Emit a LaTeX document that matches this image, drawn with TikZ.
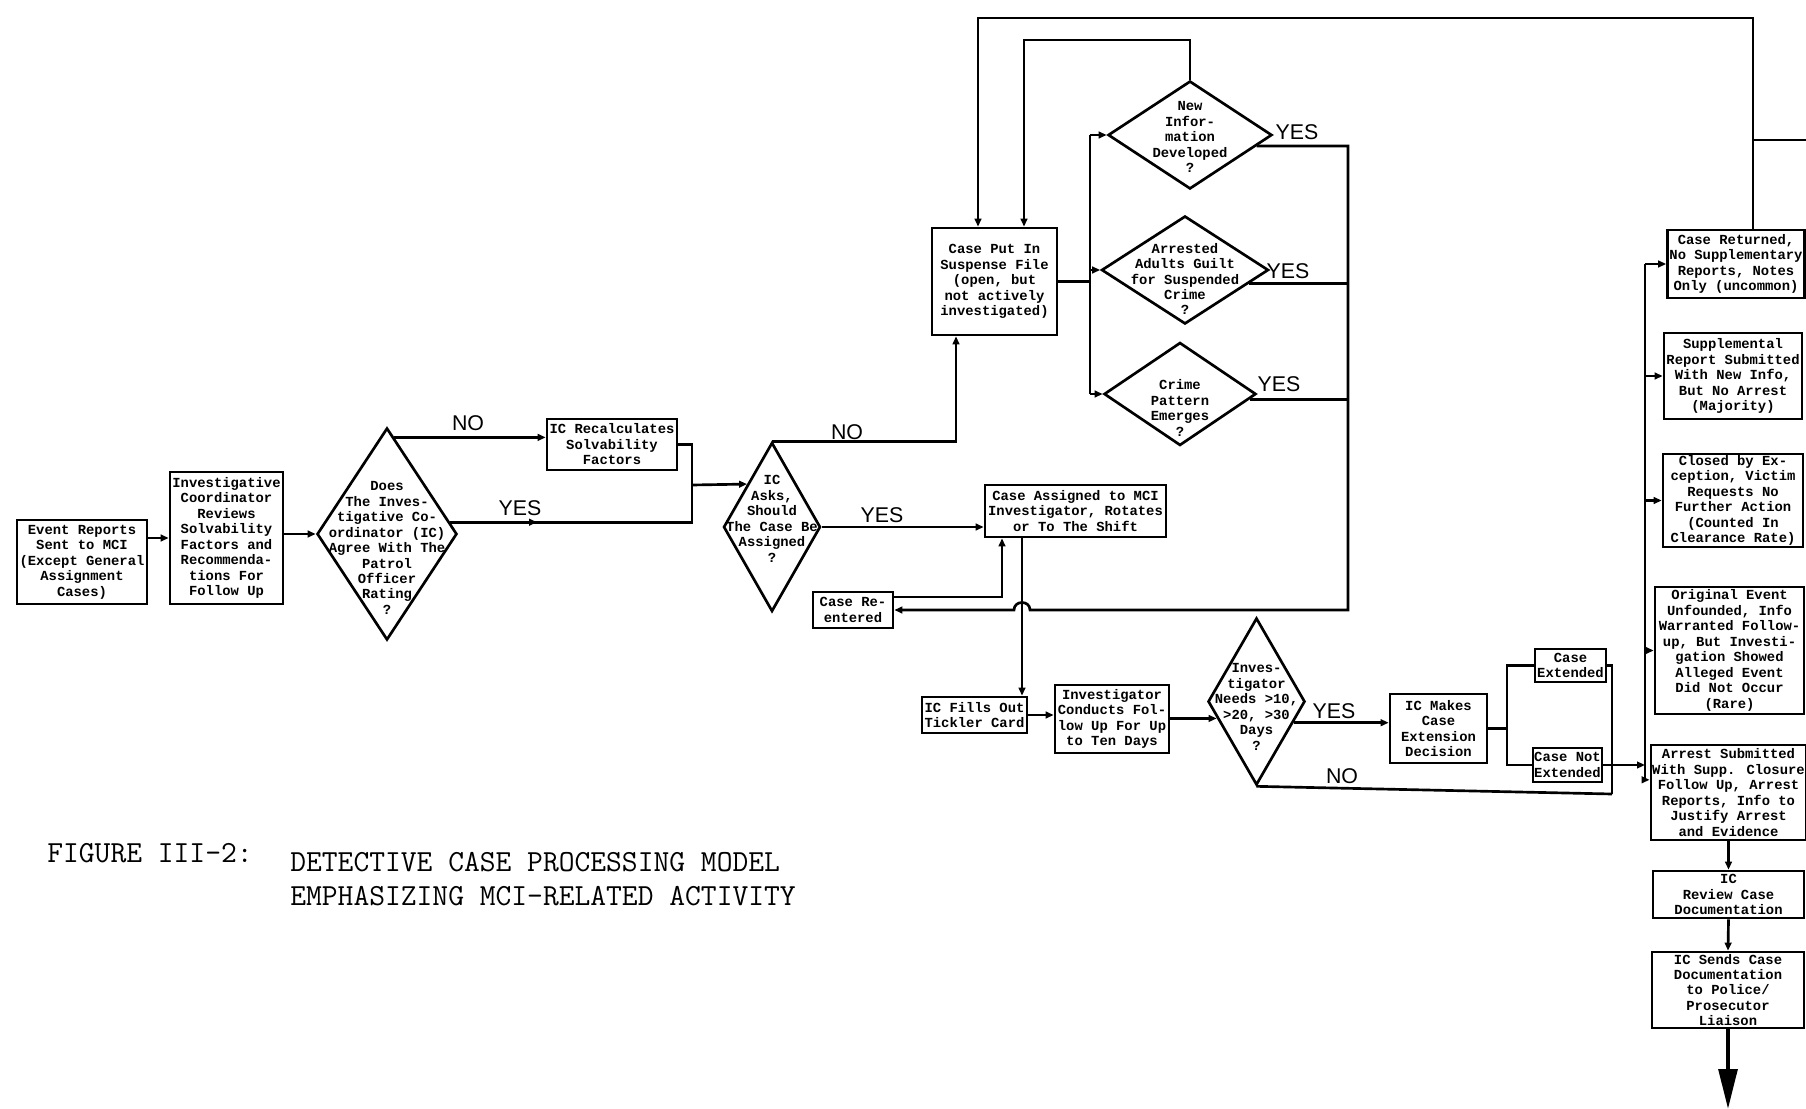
\documentclass[tikz,border=0pt]{standalone}
\usepackage{fontspec}
\newfontfamily\boxfont{Liberation Mono}
\newfontfamily\lblfont{Liberation Sans}
\usetikzlibrary{arrows.meta,shapes.geometric,calc,decorations.markings}
\begin{document}
\begin{tikzpicture}[x=0.75pt,y=-0.75pt,line width=2pt,
  box/.style={draw, rectangle, inner sep=1pt, align=center, font={\boxfont\bfseries\fontsize{10.4}{11.6}\selectfont}},
  dia/.style={draw, diamond, inner sep=0pt},
  dtxt/.style={align=center, inner sep=0pt, font={\boxfont\bfseries\fontsize{10.4}{11.6}\selectfont}},
  lbl/.style={inner sep=0pt, font={\lblfont\fontsize{16}{18}\selectfont}},
  captxt/.style={inner sep=0pt, anchor=west, font={\ttfamily\fontsize{23}{27}\selectfont}},
  sz/.style 2 args={minimum width=#1*0.75pt, minimum height=#2*0.75pt},
  arw/.style={-{Triangle[length=6pt,width=5pt]}},
  midarw/.style={postaction={decorate}, decoration={markings, mark=at position #1 with {\arrow{Triangle[length=6pt,width=5pt]}}}}
]
\fill[white] (0,0) rectangle (1806,1109);
\useasboundingbox (0,0) rectangle (1806,1109);

% ---------- left part ----------
\node[box, sz={130}{84}] (ev) at (82,562) {Event Reports\\Sent to MCI\\(Except General\\Assignment\\Cases)};
\node[box, sz={113}{132}] (icr) at (226.5,538) {Investigative\\Coordinator\\Reviews\\Solvability\\Factors and\\Recommenda-\\tions For\\Follow Up};
\node[dia, sz={140}{212}] (d1) at (387,534) {};
\node[dtxt] (d1t) at (387,548) {Does\\The Inves-\\tigative Co-\\ordinator (IC)\\Agree With The\\Patrol\\Officer\\Rating\\?};
\node[box, sz={130}{51}] (rec) at (612,444.5) {IC Recalculates\\Solvability\\Factors};
\node[dia, sz={97}{169}] (d2) at (772,527) {};
\node[dtxt] (d2t) at (772,519) {IC\\Asks,\\Should\\The Case Be\\Assigned\\?};

% ---------- suspense part ----------
\node[box, sz={125}{107}] (cp) at (994.5,281.5) {Case Put In\\Suspense File\\(open, but\\not actively\\investigated)};
\node[dia, sz={164}{108}] (dA) at (1190,135) {};
\node[dtxt] (dAt) at (1190,137) {New\\Infor-\\mation\\Developed\\?};
\node[dia, sz={167}{108}] (dB) at (1185,270) {};
\node[dtxt] (dBt) at (1185,279) {Arrested\\Adults Guilt\\for Suspended\\Crime\\?};
\node[dia, sz={152}{103}] (dC) at (1180,394) {};
\node[dtxt] (dCt) at (1180,408) {Crime\\Pattern\\Emerges\\?};

% ---------- assignment part ----------
\node[box, sz={181}{52}] (ca) at (1075.5,511) {Case Assigned to MCI\\Investigator, Rotates\\or To The Shift};
\node[box, sz={80}{36}] (cre) at (853,610) {Case Re-\\entered};
\node[box, sz={105}{36}] (tick) at (974.5,715) {IC Fills Out\\Tickler Card};
\node[box, sz={114}{68}] (cond) at (1112,719) {Investigator\\Conducts Fol-\\low Up For Up\\to Ten Days};
\node[dia, sz={97}{167}] (d3) at (1256.5,701.5) {};
\node[dtxt] (d3t) at (1256.5,707) {Inves-\\tigator\\Needs >10,\\>20, >30\\Days\\?};
\node[box, sz={97}{69}] (mk) at (1438.5,728.5) {IC Makes\\Case\\Extension\\Decision};
\node[box, sz={71}{33}] (ext) at (1570.5,665.5) {Case\\Extended};
\node[box, sz={69}{34}] (nxt) at (1567.5,765) {Case Not\\Extended};

% ---------- right column ----------
\node[box, sz={137}{68}] (ret) at (1736,264) {Case Returned,\\No Supplementary\\Reports, Notes\\Only (uncommon)};
\node[box, sz={138}{86}] (sup) at (1733,376) {Supplemental\\Report Submitted\\With New Info,\\But No Arrest\\(Majority)};
\node[box, sz={140}{89}] (clo) at (1733,500.5) {Closed by Ex-\\ception, Victim\\Requests No\\Further Action\\(Counted In\\Clearance Rate)};
\node[box, sz={149}{127}] (orig) at (1729.5,650.5) {Original Event\\Unfounded, Info\\Warranted Follow-\\up, But Investi-\\gation Showed\\Alleged Event\\Did Not Occur\\(Rare)};
\node[box, sz={151}{95}] (arst) at (1728.5,792.5) {Arrest Submitted\\With Supp. Closure\\Follow Up, Arrest\\Reports, Info to\\Justify Arrest\\and Evidence};
\node[box, sz={151}{47}] (rev) at (1728.5,894.5) {IC\\Review Case\\Documentation};
\node[box, sz={152}{76}] (snd) at (1728,990) {IC Sends Case\\Documentation\\to Police/\\Prosecutor\\Liaison};

% ---------- connectors ----------
\draw[arw] (ev.east |- icr.west) -- (icr.west);
\draw[arw] (icr.east |- d1.west) -- (d1.west);
\draw[arw] ($(d1.north)!0.1!(d1.east)$) coordinate (n1) -- (n1 -| rec.west);
\coordinate (j1) at (692,485);
\draw[midarw=0.26] ($(d1.north)!0.89!(d1.east)$) coordinate (y1) -- (y1 -| j1) -- (j1 |- rec.east) -- (rec.east);
\draw[arw] (j1) -- (d2.north west);

\coordinate (k2) at (956,448);
\draw[arw] (d2.north) -- (d2.north -| k2) -- (k2 |- cp.south);
\draw[arw] (d2.east) -- (d2.east -| ca.west);
\coordinate (k3) at (1002,597);
\draw[arw] (cre.east |- k3) -- (k3) -- (k3 |- ca.south);
\coordinate (k4) at (1022,537);
\draw[arw] (k4 |- ca.south) -- (k4 |- tick.north);

% YES loop back to Case Re-entered
\coordinate (k6) at (1348,610);
\path ($(dA.east)!0.2!(dA.south)$) coordinate (eA);
\path ($(dB.east)!0.25!(dB.south)$) coordinate (eB);
\path ($(dC.east)!0.1!(dC.south)$) coordinate (eC);
\draw[arw] (eA) -- (eA -| k6) -- (k6) -- ($(k4 |- k6)+(8,0)$) .. controls +(0,-10) and +(0,-10) .. ($(k4 |- k6)+(-8,0)$) -- (cre.east |- k6);
\draw (eB) -- (eB -| k6);
\draw (eC) -- (eC -| k6);

% suspense file to the three questions
\coordinate (k7) at (1090,284);
\draw (cp.east) -- (cp.east -| k7);
\draw (k7 |- dA.west) -- (k7 |- dC.west);
\draw[arw] (k7 |- dA.west) -- (dA.west);
\draw[arw] (k7 |- dB.west) -- (dB.west);
\draw[arw] (k7 |- dC.west) -- (dC.west);

% top loops
\coordinate (k8) at (1753,18);
\coordinate (k9) at (978,18);
\draw[arw] (k8 |- ret.north) -- (k8) -- (k9) -- (k9 |- cp.north);
\coordinate (k10) at (1806,140);
\draw (k10 -| k8) -- (k10);
\coordinate (k11) at (1024,40);
\draw[arw] (dA.north) -- (dA.north |- k11) -- (k11) -- (k11 |- cp.north);

% follow-up chain
\draw[arw] (tick.east) -- (tick.east -| cond.west);
\path ($(d3.west)!0.2!(d3.south)$) coordinate (c3);
\draw[arw] (cond.east |- c3) -- (c3);
\path ($(d3.east)!0.25!(d3.south)$) coordinate (c4);
\draw[arw] (c4) -- (c4 -| mk.west);
\coordinate (k12) at (1612,794);
\draw (d3.south) -- (k12);
\coordinate (k13) at (1507,728);
\draw (mk.east) -- (mk.east -| k13);
\draw (ext.west) -- (ext.west -| k13) -- (nxt.west -| k13) -- (nxt.west);
\draw (ext.east) -- (ext.east -| k12) -- (k12);

% bus to outcomes
\coordinate (bus) at (1645,264);
\draw[arw] (nxt.east) -- (nxt.east -| bus);
\path ($(arst.north west)!0.37!(arst.south west)$) coordinate (c5);
\draw (bus |- ret.west) -- (bus |- c5);
\draw[arw] (bus |- ret.west) -- (ret.west);
\draw[arw] (bus |- sup.west) -- (sup.west);
\draw[arw] (bus |- clo.west) -- (clo.west);
\draw[arw] (bus |- orig.west) -- (orig.west);
\draw[arw] (bus |- c5) -- (c5);
\draw[arw] (arst.south) -- (rev.north);
\draw[arw] (rev.south) -- (snd.north);
\coordinate (out) at (1728,1109);
\draw[line width=3pt, -{Triangle[length=30pt,width=14pt]}] (snd.south) -- (out);

% ---------- labels ----------
\node[lbl] (L1) at (468,423) {NO};
\node[lbl] (L2) at (520,508) {YES};
\node[lbl] (L3) at (847,432) {NO};
\node[lbl] (L4) at (882,515) {YES};
\node[lbl] (L5) at (1297,132) {YES};
\node[lbl] (L6) at (1288,271) {YES};
\node[lbl] (L7) at (1279,384) {YES};
\node[lbl] (L8) at (1334,711) {YES};
\node[lbl] (L9) at (1342,776) {NO};

% ---------- caption ----------
\node[captxt] (f1) at (46,853) {FIGURE III-2:};
\node[captxt] (f2) at (289,862) {DETECTIVE CASE PROCESSING MODEL};
\node[captxt] (f3) at (289,896) {EMPHASIZING MCI-RELATED ACTIVITY};
\end{tikzpicture}
\end{document}
